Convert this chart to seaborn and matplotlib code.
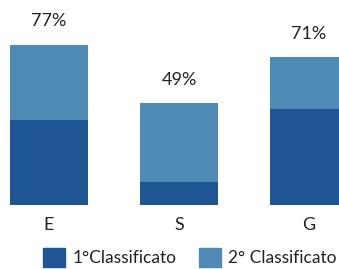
import matplotlib
matplotlib.use("Agg")
import matplotlib.pyplot as plt
import matplotlib.patches as mpatches
import seaborn as sns

# dati
categorie = ["E", "S", "G"]
primo = [41, 11, 46]
secondo = [36, 38, 25]
totale_label = ["77%", "49%", "71%"]

col_primo = "#1f5592"
col_secondo = "#4e8ab3"

sns.set_theme(style="white")
plt.rcParams["font.family"] = ["Lato", "DejaVu Sans"]

totale = [a + b for a, b in zip(primo, secondo)]

fig = plt.figure(figsize=(3.39, 2.69), dpi=100)
ax = fig.add_axes([0, 64 / 269, 1, 205 / 269])

sns.barplot(x=categorie, y=totale, color=col_secondo, saturation=1, width=0.6,
            linewidth=0, ax=ax)
sns.barplot(x=categorie, y=primo, color=col_primo, saturation=1, width=0.6,
            linewidth=0, ax=ax)

for i, lab in enumerate(totale_label):
    ax.annotate(lab, (i, totale[i]), xytext=(0, 11), textcoords="offset points",
                ha="center", va="bottom", fontsize=13, color="#222222")

ax.set_xlim(-0.377, 2.23)
ax.set_ylim(0, 98.5)
ax.set_yticks([])
ax.tick_params(axis="x", length=0, pad=9, labelsize=13, labelcolor="#222222")
sns.despine(ax=ax, left=True, bottom=True)
ax.set_xlabel("")
ax.set_ylabel("")

handles = [mpatches.Patch(color=col_primo, label="1°Classificato"),
           mpatches.Patch(color=col_secondo, label="2° Classificato")]
fig.legend(handles=handles, loc="lower center", bbox_to_anchor=(0.56, -0.05), ncol=2,
           frameon=False, fontsize=12.5, handlelength=1.3, handleheight=1.3,
           handletextpad=0.4, columnspacing=1.3, labelcolor="#222222")

fig.savefig("out.png", dpi=100)
